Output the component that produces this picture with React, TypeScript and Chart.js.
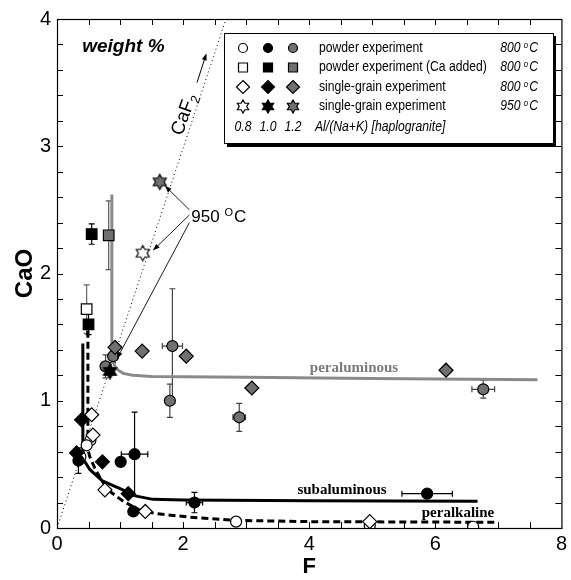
import React, { useEffect, useRef } from 'react';
import { Chart, registerables } from 'chart.js';

Chart.register(...registerables);

// [F, CaO, errF, errCaO]
type Pt = [number, number, number, number];

// powder experiment 800 °C (circles), Al/(Na+K) = 0.8 / 1.0 / 1.2
const powder08: Pt[] = [[0.53, 0.69, 0, 0], [0.47, 0.65, 0, 0], [0.37, 0.56, 0, 0], [2.84, 0.05, 0, 0], [4.96, 0.02, 0, 0], [6.6, 0.01, 0, 0]];
const powder10: Pt[] = [[0.34, 0.53, 0, 0.1], [1.01, 0.52, 0, 0], [1.23, 0.58, 0.21, 0.33], [1.21, 0.13, 0, 0], [2.18, 0.2, 0.13, 0.08], [5.87, 0.27, 0.4, 0]];
const powder12: Pt[] = [[0.77, 1.27, 0, 0.09], [0.89, 1.35, 0, 0.05], [1.83, 1.43, 0.16, 0.45], [1.79, 1.0, 0, 0.13], [2.89, 0.87, 0.1, 0.11], [6.76, 1.09, 0.18, 0.07]];

// powder experiment (Ca added) 800 °C (squares)
const caAdded08: Pt[] = [[0.47, 1.72, 0, 0.19]];
const caAdded10: Pt[] = [[0.55, 2.31, 0, 0.08], [0.5, 1.6, 0, 0.08]];
const caAdded12: Pt[] = [[0.82, 2.3, 0, 0.27]];

// single-grain experiment 800 °C (diamonds)
const grain08: Pt[] = [[0.55, 0.89, 0, 0], [0.57, 0.73, 0, 0], [0.76, 0.3, 0, 0], [1.4, 0.13, 0, 0], [4.96, 0.05, 0, 0]];
const grain10: Pt[] = [[0.39, 0.85, 0, 0], [0.31, 0.59, 0, 0], [0.72, 0.52, 0, 0], [1.13, 0.27, 0, 0]];
const grain12: Pt[] = [[0.92, 1.42, 0, 0], [1.35, 1.39, 0, 0], [2.05, 1.35, 0, 0], [3.09, 1.1, 0, 0], [6.17, 1.24, 0, 0]];

// single-grain experiment 950 °C (stars)
const star08: Pt[] = [[1.36, 2.16, 0, 0]];
const star10: Pt[] = [[0.84, 1.23, 0, 0]];
const star12: Pt[] = [[1.63, 2.72, 0, 0]];

// trend curves [F, CaO]
const curvePeraluminous: [number, number][] = [[0.87, 2.62], [0.87, 1.4], [0.88, 1.32], [0.92, 1.27], [0.97, 1.24], [1.05, 1.215], [1.2, 1.2], [1.5, 1.19], [3.0, 1.185], [5.0, 1.175], [7.62, 1.165]];
const curveSubaluminous: [number, number][] = [[0.41, 1.45], [0.41, 0.62], [0.43, 0.53], [0.52, 0.46], [0.72, 0.37], [1.0, 0.31], [1.26, 0.25], [1.52, 0.225], [2.0, 0.22], [4.0, 0.215], [6.67, 0.21]];
const curvePeralkaline: [number, number][] = [[0.49, 1.55], [0.49, 0.62], [0.52, 0.56], [0.6, 0.47], [0.71, 0.37], [0.86, 0.28], [1.05, 0.21], [1.31, 0.14], [1.55, 0.115], [2.1, 0.085], [2.84, 0.06], [4.0, 0.05], [6.94, 0.045]];
const caf2Line: [number, number][] = [[0, 0], [2.68, 4]];

// legend content
const legendRows: [string, string][] = [
  ['powder experiment', '800'],
  ['powder experiment (Ca added)', '800'],
  ['single-grain experiment', '800'],
  ['single-grain experiment', '950'],
];
const ratioLabels = ['0.8', '1.0', '1.2'];

const WHITE = '#ffffff';
const BLACK = '#000000';
const GRAY = '#707070';

function starPath(ctx: CanvasRenderingContext2D, cx: number, cy: number, R: number) {
  const r = R / Math.sqrt(3);
  ctx.beginPath();
  for (let k = 0; k < 12; k++) {
    const a = -Math.PI / 2 + (k * Math.PI) / 6;
    const rr = k % 2 === 0 ? R : r;
    const px = cx + rr * Math.cos(a);
    const py = cy + rr * Math.sin(a);
    if (k === 0) ctx.moveTo(px, py);
    else ctx.lineTo(px, py);
  }
  ctx.closePath();
}

function makeStar(fill: string, R: number) {
  const c = document.createElement('canvas');
  const s = Math.ceil(2 * R + 4);
  c.width = s;
  c.height = s;
  const g = c.getContext('2d')!;
  starPath(g, s / 2, s / 2, R);
  g.fillStyle = fill;
  g.fill();
  g.strokeStyle = BLACK;
  g.lineWidth = 1.2;
  g.stroke();
  return c;
}

function drawMarker(ctx: CanvasRenderingContext2D, kind: string, fill: string, x: number, y: number) {
  ctx.save();
  ctx.fillStyle = fill;
  ctx.strokeStyle = BLACK;
  ctx.lineWidth = 1.2;
  if (kind === 'circle') {
    ctx.beginPath();
    ctx.arc(x, y, 4.5, 0, Math.PI * 2);
  } else if (kind === 'square') {
    ctx.beginPath();
    ctx.rect(x - 4.5, y - 4.5, 9, 9);
  } else if (kind === 'diamond') {
    ctx.beginPath();
    ctx.moveTo(x, y - 6.5);
    ctx.lineTo(x + 6.5, y);
    ctx.lineTo(x, y + 6.5);
    ctx.lineTo(x - 6.5, y);
    ctx.closePath();
  } else {
    starPath(ctx, x, y, 6.5);
  }
  ctx.fill();
  ctx.stroke();
  ctx.restore();
}

function arrow(ctx: CanvasRenderingContext2D, x1: number, y1: number, x2: number, y2: number) {
  const a = Math.atan2(y2 - y1, x2 - x1);
  ctx.beginPath();
  ctx.moveTo(x1, y1);
  ctx.lineTo(x2 - 4 * Math.cos(a), y2 - 4 * Math.sin(a));
  ctx.stroke();
  ctx.beginPath();
  ctx.moveTo(x2, y2);
  ctx.lineTo(x2 - 7 * Math.cos(a) + 2.5 * Math.sin(a), y2 - 7 * Math.sin(a) - 2.5 * Math.cos(a));
  ctx.lineTo(x2 - 7 * Math.cos(a) - 2.5 * Math.sin(a), y2 - 7 * Math.sin(a) + 2.5 * Math.cos(a));
  ctx.closePath();
  ctx.fill();
}

const SANS = '"Liberation Sans", Arial, Helvetica, sans-serif';
const SERIF = '"Liberation Serif", "Times New Roman", serif';

export default function App() {
  const ref = useRef<HTMLCanvasElement>(null);

  useEffect(() => {
    document.body.style.margin = '0';
    const canvas = ref.current!;

    const toData = (pts: Pt[]) => pts.map((p) => ({ x: p[0], y: p[1], ex: p[2], ey: p[3] }));
    const toLine = (pts: [number, number][]) => pts.map((p) => ({ x: p[0], y: p[1] }));

    const markerDs = (pts: Pt[], style: any, fill: string, radius: number, errColor: string) => ({
      data: toData(pts),
      pointStyle: style,
      pointRadius: radius,
      pointHoverRadius: radius,
      backgroundColor: fill,
      borderColor: BLACK,
      borderWidth: 1.2,
      showLine: false,
      order: 0,
      errColor,
    });

    const lineDs = (pts: [number, number][], color: string, width: number, dash: number[]) => ({
      data: toLine(pts),
      showLine: true,
      pointRadius: 0,
      pointHoverRadius: 0,
      borderColor: color,
      borderWidth: width,
      borderDash: dash,
      backgroundColor: color,
      tension: 0,
      fill: false,
      order: 10,
    });

    const overlay = {
      id: 'overlay',
      beforeDatasetsDraw(chart: any) {
        const { ctx, chartArea: a, scales } = chart;
        const xs = scales.x;
        const ys = scales.y;
        ctx.save();
        // frame
        ctx.strokeStyle = BLACK;
        ctx.lineWidth = 1.2;
        ctx.strokeRect(a.left + 0.5, a.top + 0.5, a.right - a.left, a.bottom - a.top);
        // inward ticks
        ctx.lineWidth = 1;
        ctx.beginPath();
        for (let v = 0.5; v < 8; v += 0.5) {
          const px = Math.round(xs.getPixelForValue(v)) + 0.5;
          ctx.moveTo(px, a.bottom);
          ctx.lineTo(px, a.bottom - 6);
          ctx.moveTo(px, a.top);
          ctx.lineTo(px, a.top + 6);
        }
        for (let v = 0.2; v < 3.99; v += 0.2) {
          const py = Math.round(ys.getPixelForValue(v)) + 0.5;
          ctx.moveTo(a.left, py);
          ctx.lineTo(a.left + 6, py);
          ctx.moveTo(a.right, py);
          ctx.lineTo(a.right - 6, py);
        }
        ctx.stroke();

        // error bars
        chart.data.datasets.forEach((ds: any) => {
          if (!ds.errColor) return;
          ctx.strokeStyle = ds.errColor;
          ctx.lineWidth = 1.2;
          ds.data.forEach((p: any) => {
            const cx = xs.getPixelForValue(p.x);
            const cy = ys.getPixelForValue(p.y);
            ctx.beginPath();
            if (p.ey) {
              const y1 = ys.getPixelForValue(p.y + p.ey);
              const y2 = ys.getPixelForValue(p.y - p.ey);
              ctx.moveTo(cx, y1);
              ctx.lineTo(cx, y2);
              ctx.moveTo(cx - 3, y1);
              ctx.lineTo(cx + 3, y1);
              ctx.moveTo(cx - 3, y2);
              ctx.lineTo(cx + 3, y2);
            }
            if (p.ex) {
              const x1 = xs.getPixelForValue(p.x - p.ex);
              const x2 = xs.getPixelForValue(p.x + p.ex);
              ctx.moveTo(x1, cy);
              ctx.lineTo(x2, cy);
              ctx.moveTo(x1, cy - 3);
              ctx.lineTo(x1, cy + 3);
              ctx.moveTo(x2, cy - 3);
              ctx.lineTo(x2, cy + 3);
            }
            ctx.stroke();
          });
        });
        ctx.restore();
      },
      afterDatasetsDraw(chart: any) {
        const { ctx, chartArea: a, scales } = chart;
        const xs = scales.x;
        const ys = scales.y;
        const P = (f: number, c: number): [number, number] => [xs.getPixelForValue(f), ys.getPixelForValue(c)];
        ctx.save();
        ctx.fillStyle = BLACK;
        ctx.strokeStyle = BLACK;

        // weight %
        ctx.font = `italic bold 19px ${SANS}`;
        ctx.textBaseline = 'middle';
        ctx.textAlign = 'left';
        let [tx, ty] = P(0.4, 3.78);
        ctx.fillText('weight %', tx, ty);

        // curve labels
        ctx.font = `bold 15px ${SERIF}`;
        ctx.textAlign = 'center';
        ctx.fillStyle = '#7a7a7a';
        [tx, ty] = P(4.71, 1.26);
        ctx.fillText('peraluminous', tx, ty);
        ctx.fillStyle = BLACK;
        [tx, ty] = P(4.52, 0.3);
        ctx.fillText('subaluminous', tx, ty);
        [tx, ty] = P(6.36, 0.12);
        ctx.fillText('peralkaline', tx, ty);

        // 950 °C label + arrows
        ctx.textAlign = 'left';
        ctx.font = `17px ${SANS}`;
        [tx, ty] = P(2.13, 2.44);
        ctx.fillText('950 ', tx, ty);
        let w = ctx.measureText('950 ').width;
        ctx.font = `11px ${SANS}`;
        ctx.fillText('O', tx + w, ty - 5);
        w += ctx.measureText('O').width + 1;
        ctx.font = `17px ${SANS}`;
        ctx.fillText('C', tx + w, ty);
        ctx.lineWidth = 0.9;
        const arrows950: [number, number, number, number][] = [[2.1, 2.5, 1.71, 2.69], [2.1, 2.46, 1.52, 2.18], [2.1, 2.4, 0.95, 1.33]];
        arrows950.forEach(([f1, c1, f2, c2]) => {
          const [x1, y1] = P(f1, c1);
          const [x2, y2] = P(f2, c2);
          arrow(ctx, x1, y1, x2, y2);
        });

        // CaF2 label
        [tx, ty] = P(2.02, 3.25);
        ctx.save();
        ctx.translate(tx, ty);
        ctx.rotate((-70 * Math.PI) / 180);
        ctx.font = `19px ${SANS}`;
        const cw = ctx.measureText('CaF').width;
        ctx.font = `13px ${SANS}`;
        const sw = ctx.measureText('2').width;
        const start = -(cw + sw) / 2;
        ctx.font = `19px ${SANS}`;
        ctx.textAlign = 'left';
        ctx.fillText('CaF', start, 0);
        ctx.font = `13px ${SANS}`;
        ctx.fillText('2', start + cw, 6);
        ctx.restore();
        {
          const [x1, y1] = P(2.22, 3.5);
          const [x2, y2] = P(2.37, 3.73);
          ctx.lineWidth = 1;
          arrow(ctx, x1, y1, x2, y2);
        }

        // legend box
        const bx = 224, by = 33, bw = 329, bh = 110;
        ctx.fillStyle = BLACK;
        ctx.fillRect(bx + 3, by + 3, bw, bh + 1);
        ctx.fillStyle = WHITE;
        ctx.fillRect(bx, by, bw, bh);
        ctx.strokeStyle = BLACK;
        ctx.lineWidth = 1;
        ctx.strokeRect(bx + 0.5, by + 0.5, bw, bh);

        const kinds = ['circle', 'square', 'diamond', 'star'];
        const fills = [WHITE, BLACK, GRAY];
        const colX = [243, 268, 293];
        const rowY = [48, 67.5, 87, 106.5, 127];
        const sx = 0.87;
        const drawScaled = (text: string, x: number, y: number, font: string) => {
          ctx.save();
          ctx.font = font;
          ctx.translate(x, y);
          ctx.scale(sx, 1);
          ctx.textAlign = 'left';
          ctx.textBaseline = 'middle';
          ctx.fillStyle = BLACK;
          ctx.fillText(text, 0, 0);
          ctx.restore();
        };
        const measure = (text: string, font: string) => {
          ctx.font = font;
          return ctx.measureText(text).width * sx;
        };
        legendRows.forEach(([label, temp], i) => {
          fills.forEach((f, j) => drawMarker(ctx, kinds[i], f, colX[j], rowY[i]));
          drawScaled(label, 319, rowY[i], `14px ${SANS}`);
          const f1 = `italic 14px ${SANS}`;
          const f2 = `italic 9px ${SANS}`;
          const w1 = measure(temp + ' ', f1);
          const w2 = measure('o', f2) + 1;
          const w3 = measure('C', f1);
          const x0 = 538 - (w1 + w2 + w3);
          drawScaled(temp + ' ', x0, rowY[i], f1);
          drawScaled('o', x0 + w1, rowY[i] - 3, f2);
          drawScaled('C', x0 + w1 + w2, rowY[i], f1);
        });
        ratioLabels.forEach((t, j) => {
          const tw = measure(t, `italic 14px ${SANS}`);
          drawScaled(t, colX[j] - tw / 2, rowY[4], `italic 14px ${SANS}`);
        });
        drawScaled('Al/(Na+K) [haplogranite]', 315, rowY[4], `italic 14px ${SANS}`);

        // axis titles
        ctx.fillStyle = BLACK;
        ctx.font = `bold 22px ${SANS}`;
        ctx.textAlign = 'center';
        ctx.textBaseline = 'middle';
        ctx.fillText('F', (a.left + a.right) / 2, 567);
        ctx.save();
        ctx.translate(25, (a.top + a.bottom) / 2);
        ctx.rotate(-Math.PI / 2);
        ctx.font = `bold 24px ${SANS}`;
        ctx.fillText('CaO', 0, 0);
        ctx.restore();

        ctx.restore();
      },
    };

    const chart = new Chart(canvas, {
      type: 'scatter',
      data: {
        datasets: [
          markerDs(star12, makeStar(GRAY, 7.5), GRAY, 7, '#555'),
          markerDs(star10, makeStar(BLACK, 7.5), BLACK, 7, BLACK),
          markerDs(star08, makeStar(WHITE, 7.5), WHITE, 7, BLACK),
          markerDs(grain12, 'rectRot', GRAY, 7, '#555'),
          markerDs(grain10, 'rectRot', BLACK, 7, BLACK),
          markerDs(grain08, 'rectRot', WHITE, 7, BLACK),
          markerDs(caAdded12, 'rect', GRAY, 7.5, '#555'),
          markerDs(caAdded10, 'rect', BLACK, 7.5, BLACK),
          markerDs(caAdded08, 'rect', WHITE, 7.5, '#666'),
          markerDs(powder12, 'circle', GRAY, 5.5, '#444'),
          markerDs(powder10, 'circle', BLACK, 5.5, BLACK),
          markerDs(powder08, 'circle', WHITE, 5.5, BLACK),
          lineDs(curvePeraluminous, '#8a8a8a', 3, []),
          lineDs(curveSubaluminous, BLACK, 3, []),
          lineDs(curvePeralkaline, BLACK, 3, [7, 4]),
          lineDs(caf2Line, BLACK, 1, [1, 3]),
        ] as any,
      },
      options: {
        responsive: false,
        animation: false,
        events: [],
        layout: { padding: { top: 19, right: 8, left: 0, bottom: 0 } },
        plugins: { legend: { display: false }, tooltip: { enabled: false } },
        scales: {
          x: {
            type: 'linear',
            min: 0,
            max: 8,
            ticks: { stepSize: 2, color: BLACK, padding: 4, font: { family: SANS, size: 20 } },
            grid: { display: false, drawTicks: false },
            border: { display: false },
            afterFit: (s: any) => { s.height = 52; },
          },
          y: {
            type: 'linear',
            min: 0,
            max: 4,
            ticks: { stepSize: 1, color: BLACK, padding: 6, font: { family: SANS, size: 20 } },
            grid: { display: false, drawTicks: false },
            border: { display: false },
            afterFit: (s: any) => { s.width = 57; },
          },
        },
      } as any,
      plugins: [overlay],
    });
    return () => chart.destroy();
  }, []);

  return <canvas ref={ref} width={571} height={580} style={{ display: 'block' }} />;
}
